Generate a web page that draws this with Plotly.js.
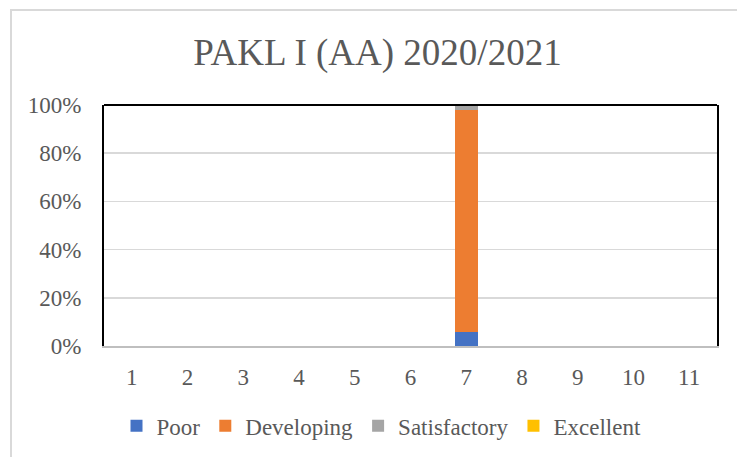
<!DOCTYPE html>
<html>
<head>
<meta charset="utf-8">
<script src="https://cdn.plot.ly/plotly-3.0.1.min.js"></script>
<style>
  html, body { margin: 0; padding: 0; background: #fff; overflow: hidden; }
  #wrap { position: absolute; left: 10px; top: 9px; width: 727px; height: 470px;
          border-left: 2px solid #d9d9d9; border-top: 2px solid #d9d9d9; box-sizing: border-box; }
  #chart { position: absolute; left: -2px; top: -2px; width: 727px; height: 470px; }
</style>
</head>
<body>
<div id="wrap"><div id="chart"></div></div>
<script>
const categories = ["1","2","3","4","5","6","7","8","9","10","11"];
const poor         = [0,0,0,0,0,0,0.06,0,0,0,0];
const developing   = [0,0,0,0,0,0,0.92,0,0,0,0];
const satisfactory = [0,0,0,0,0,0,0.02,0,0,0,0];
const excellent    = [0,0,0,0,0,0,0,0,0,0,0];
const seriesNames  = ["Poor","Developing","Satisfactory","Excellent"];
const seriesColors = ["#4472c4","#ed7d31","#a5a5a5","#ffc000"];
const seriesValues = [poor, developing, satisfactory, excellent];

const traces = seriesValues.map((v, i) => ({
  type: 'bar', x: categories, y: v, name: seriesNames[i],
  marker: { color: seriesColors[i], line: { width: 0 } },
  hoverinfo: 'skip'
}));

const font = { family: 'Liberation Serif, Times New Roman, serif', color: '#595959' };

const layout = {
  width: 727, height: 470,
  margin: { l: 94, r: 20, t: 96, b: 133 },
  paper_bgcolor: 'rgba(0,0,0,0)', plot_bgcolor: '#fff',
  barmode: 'stack', bargap: 0.59,
  title: { text: 'PAKL I (AA) 2020/2021', font: Object.assign({ size: 37 }, font),
           x: 0.5055, xanchor: 'center', y: 1 - 43 / 470, yanchor: 'middle' },
  xaxis: { type: 'category', showgrid: false, zeroline: false,
           showline: true, linecolor: '#bfbfbf', linewidth: 2,
           ticks: 'outside', ticklen: 9, tickcolor: 'rgba(0,0,0,0)',
           tickfont: Object.assign({ size: 23 }, font) },
  yaxis: { range: [0, 1], tickvals: [0,0.2,0.4,0.6,0.8,1], tickformat: '.0%',
           showgrid: true, gridcolor: '#d9d9d9', gridwidth: 1.5, zeroline: false,
           showline: true, mirror: true, linecolor: '#000', linewidth: 2,
           ticks: 'outside', ticklen: 16, tickcolor: 'rgba(0,0,0,0)',
           tickfont: Object.assign({ size: 23 }, font) },
  shapes: [{ type: 'line', xref: 'paper', yref: 'paper', x0: 0, x1: 1, y0: 1, y1: 1,
             line: { color: '#000', width: 2 }, layer: 'above' }],
  legend: { orientation: 'h', x: 0.4527, xanchor: 'center', y: -0.2415, yanchor: 'top',
            font: Object.assign({ size: 23 }, font), itemwidth: 30, traceorder: 'normal' },
  showlegend: true
};

Plotly.newPlot('chart', traces, layout, { displayModeBar: false, staticPlot: true });
</script>
</body>
</html>
